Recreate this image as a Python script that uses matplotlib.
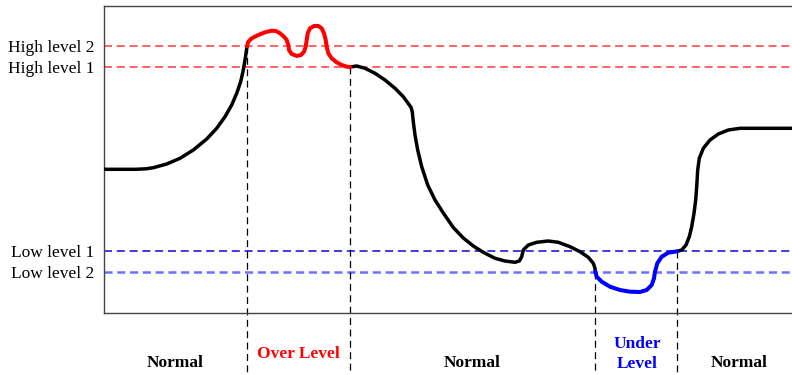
import matplotlib
matplotlib.use("Agg")
import matplotlib.pyplot as plt

plt.rcParams['font.family'] = ['Liberation Serif', 'DejaVu Serif']
plt.rcParams['lines.scale_dashes'] = False

# ---- data (time units on x, level units on y) ----
level_names = ["Low level 2", "Low level 1", "High level 1", "High level 2"]
level_values = [40.8, 61.2, 245.5, 266.2]

transitions = [143.0, 246.0, 491.3, 573.3]
transition_levels = [266.2, 245.5, 40.8, 61.2]

normal1_x = [0, 32, 42, 49.3, 62.7, 76, 89.3, 102.7, 112.7, 121, 127.7, 132.7,
             136.7, 139.3, 141.3, 143]
normal1_y = [143.2, 143.2, 143.7, 144.8, 148.5, 154.2, 162.5, 173.5, 184.2, 195.8, 207.5, 219.2,
             230.8, 242.5, 254.2, 266.2]

over_x = [143, 144.3, 147.7, 154.3, 161, 167.7, 172, 176, 180, 182.7, 184.3, 185, 187.7,
          192.7, 197, 200, 201.7, 202.7, 203.7, 206, 210, 214.3, 217.7, 220, 221.7, 222.7,
          224.3, 227.7, 232.7, 237.7, 242.7, 246]
over_y = [266.2, 270.8, 274.2, 277.5, 280.2, 281.8, 281.5, 279.2, 275.8, 272.5, 267.5, 262.5, 258.5,
          256.5, 257.5, 260.8, 265.8, 272.5, 279.2, 284.2, 286.5, 286.5, 284.2, 279.2, 272.5, 265.8,
          259.2, 254.2, 250.2, 247.5, 245.8, 245.5]

normal2_x = [246, 252.7, 261, 271, 281, 291, 299.3, 307, 308.3, 309.3, 311, 313.7, 317.7,
             323.7, 331, 339.3, 349.3, 359.3, 369.3, 379.3, 391, 401, 411, 415.3, 417.7,
             419.3, 424.3, 432.7, 444.3, 454.3, 466, 476, 484.3, 489.3, 491, 491.3]
normal2_y = [245.5, 246.5, 244.2, 239.2, 232.5, 224.2, 215.8, 205.2, 200.5, 190.8, 177.5, 162.5, 145.8,
             127.5, 112.5, 99.5, 85.0, 74.5, 66.5, 60.2, 54.2, 51.5, 50.2, 51.5, 55.8,
             62.5, 67.5, 70.2, 71.5, 70.2, 65.8, 60.8, 55.2, 49.2, 44.2, 40.8]

under_x = [491.3, 492.7, 497.7, 506, 516, 526, 536, 542.7, 547.7, 550, 551, 553.3, 557.7,
           564.3, 573.3]
under_y = [40.8, 35.8, 30.8, 25.8, 22.5, 20.8, 20.5, 22.5, 27.5, 34.2, 40.8, 49.2, 55.8,
           59.8, 61.2]

normal3_x = [573.3, 577.7, 582, 585.3, 587.7, 590, 591.7, 592.7, 593.7, 595.3, 599.3, 606,
             614.3, 624.3, 636, 688]
normal3_y = [61.2, 62.5, 67.5, 75.8, 85.8, 99.2, 112.5, 125.8, 142.5, 154.2, 164.2, 172.5,
             178.5, 182.5, 184.2, 184.2]

zone_labels = ["Normal", "Over Level", "Normal", "Under\nLevel", "Normal"]
zone_x = [71, 194, 368, 533, 635]
zone_y = [-50.5, -41.5, -50.5, -41.5, -50.5]
zone_colors = ["black", "#ff0000", "black", "#0000ff", "black"]

# ---- figure ----
W, H = 792, 375
fig = plt.figure(figsize=(W / 100, H / 100), dpi=100)
ax = fig.add_axes([104 / W, (375 - 312.5) / H, (792 - 104) / W, (312.5 - 5.5) / H])
ax.set_xlim(0, 688)
ax.set_ylim(0, 307)

# level lines
level_colors = ["#7070ff", "#0a0ad0", "#ff4a4a", "#ff4a4a"]
level_lw = [1.8, 1.1, 1.2, 1.2]
for v, c, lw in zip(level_values, level_colors, level_lw):
    ax.axhline(v, color=c, lw=lw, linestyle=(0, (5.8, 3.4)), zorder=1)

# transition lines
for tx, ty in zip(transitions, transition_levels):
    ax.plot([tx, tx], [ty, -70], color="black", lw=0.9,
            linestyle=(0, (5.0, 3.2)), clip_on=False, zorder=2)

# signal
kw = dict(solid_joinstyle='round', solid_capstyle='round', zorder=3)
ax.plot(normal1_x, normal1_y, color="black", lw=2.5, **kw)
ax.plot(normal2_x, normal2_y, color="black", lw=2.5, **kw)
ax.plot(normal3_x, normal3_y, color="black", lw=2.5, **kw)
ax.plot(over_x, over_y, color="#ff0000", lw=2.9, **kw)
ax.plot(under_x, under_y, color="#0000ff", lw=2.9, **kw)

# axes styling
ax.set_xticks([])
ax.set_yticks(level_values)
ax.set_yticklabels(level_names, fontsize=12.5)
ax.tick_params(axis='y', length=0, pad=7)
ax.spines['right'].set_visible(False)
for s in ['left', 'bottom', 'top']:
    ax.spines[s].set_color("#444444")
    ax.spines[s].set_linewidth(1.0)

for lab, x, y, c in zip(zone_labels, zone_x, zone_y, zone_colors):
    ax.text(x, y, lab, ha='center', va='center', fontsize=12.5, fontweight='bold',
            color=c, clip_on=False, linespacing=1.4)

fig.savefig("out.png", dpi=100)
